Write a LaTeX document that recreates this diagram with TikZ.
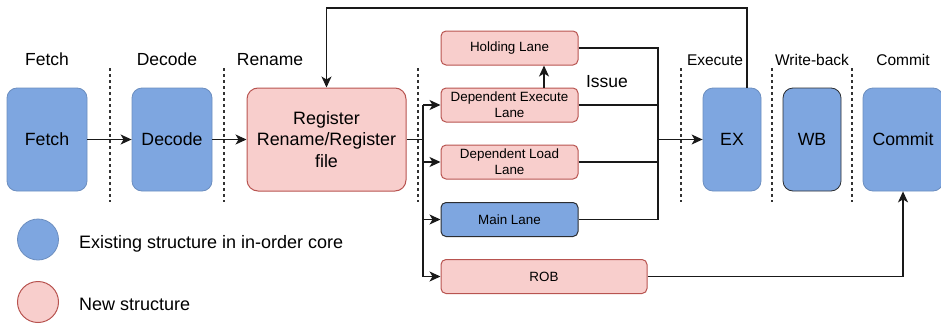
\documentclass[tikz,border=0pt]{standalone}
\usepackage{fontspec}
\setmainfont{Liberation Sans}
\usetikzlibrary{arrows.meta}
\definecolor{exfill}{HTML}{7EA6E0}
\definecolor{exline}{HTML}{6C8EBF}
\definecolor{nwfill}{HTML}{F8CECC}
\definecolor{nwline}{HTML}{B85450}
\definecolor{darkline}{HTML}{2B2D31}
\tikzset{
  oldbox/.style={draw=exline, fill=exfill, rounded corners=10pt, line width=0.8pt,
    inner sep=0pt, minimum width=80pt, minimum height=103pt,
    font=\fontsize{17.7}{21}\selectfont},
  newbig/.style={draw=nwline, fill=nwfill, rounded corners=11pt, line width=1pt,
    inner sep=0pt, minimum width=159pt, minimum height=103pt, align=center,
    font=\fontsize{17.9}{21.7}\selectfont},
  lanebox/.style={draw=nwline, fill=nwfill, rounded corners=5pt, line width=1pt,
    inner sep=0pt, minimum width=137pt, minimum height=34pt, align=center,
    font=\fontsize{13.4}{15.7}\selectfont},
  oldlane/.style={lanebox, draw=darkline, fill=exfill},
  stagelbl/.style={anchor=base, font=\fontsize{17.5}{21}\selectfont},
  smalllbl/.style={anchor=base, font=\fontsize{15.5}{18}\selectfont},
  stagesep/.style={draw=black!80, line width=1.1pt, dash pattern=on 3pt off 3pt},
  wire/.style={draw=black!90, line width=1.3pt},
  arrow/.style={wire, -{Stealth[length=11pt,width=10pt,inset=3pt]}},
  legendtxt/.style={anchor=base west, font=\fontsize{18}{21}\selectfont},
}
\begin{document}
\begin{tikzpicture}[x=1pt,y=-1pt]
\useasboundingbox (0,0) rectangle (941,324);

% pipeline stage separators
\foreach \xs in {110,224,418,681,772,852}
  \draw[stagesep] (\xs,68) -- (\xs,202);

% stage titles
\node[stagelbl] (tfetch)  at (47,65)  {Fetch};
\node[stagelbl] (tdecode) at (167,65) {Decode};
\node[stagelbl] (trename) at (270,65) {Rename};
\node[smalllbl] (texec)   at (715,65) {Execute};
\node[smalllbl] (twb)     at (812,65) {Write-back};
\node[smalllbl] (tcommit) at (903,65) {Commit};
\node[stagelbl] (tissue)  at (607,87) {Issue};

% in-order core stages
\node[oldbox] (fetch)  at (47,139.5)  {Fetch};
\node[oldbox] (decode) at (172,139.5) {Decode};
\node[newbig] (rename) at (326.5,139.5) {Register\\Rename/Register\\file};
\node[oldbox, minimum width=58pt] (ex) at (732,139.5) {EX};
\node[oldbox, minimum width=58pt, draw=darkline] (wb) at (812,139.5) {WB};
\node[oldbox] (commit) at (903,139.5) {Commit};

% issue lanes
\node[lanebox] (hold)  at (509.5,48)    {Holding Lane};
\node[lanebox] (dexe)  at (509.5,105)   {Dependent Execute\\Lane};
\node[lanebox] (dload) at (509.5,162)   {Dependent Load\\Lane};
\node[oldlane] (mainl) at (509.5,219.5) {Main Lane};
\node[lanebox, minimum width=206pt] (rob) at (544,276.5) {ROB};

% front-end flow
\draw[arrow] (fetch) -- (decode);
\draw[arrow] (decode) -- (rename);

% dispatch bus from rename to the lanes
\coordinate (bus) at (423,139.5);
\draw[wire] (rename.east) -- (bus);
\draw[wire] (dexe.west -| bus) -- (rob.west -| bus);
\draw[arrow] (dexe.west -| bus) -- (dexe.west);
\draw[arrow] (dload.west -| bus) -- (dload.west);
\draw[arrow] (mainl.west -| bus) -- (mainl.west);
\draw[arrow] (rob.west -| bus) -- (rob.west);
\draw[arrow] ([xshift=34.5pt]dexe.north) -- ([xshift=34.5pt]hold.south);

% lanes merge into execute
\coordinate (mrg) at (658,139.5);
\draw[wire] (hold.east) -- (hold.east -| mrg) -- (mainl.east -| mrg) -- (mainl.east);
\draw[wire] (dexe.east) -- (dexe.east -| mrg);
\draw[wire] (dload.east) -- (dload.east -| mrg);
\draw[arrow] (mrg) -- (ex.west);

% feedback from execute to rename
\coordinate (fbtop) at (747,8);
\draw[arrow] ([xshift=15pt]ex.north) -- ([xshift=15pt]ex.north |- fbtop) -| (rename.north);

% ROB to commit
\draw[arrow] (rob.east) -| (commit.south);

% legend
\node[circle, draw=exline, fill=exfill, line width=0.8pt, minimum size=41pt, inner sep=0pt] (legold) at (38,239.5) {};
\node[circle, draw=nwline, fill=nwfill, line width=1pt, minimum size=41pt, inner sep=0pt] (legnew) at (38,302) {};
\node[legendtxt] (legoldtxt) at (75.5,248) {Existing structure in in-order core};
\node[legendtxt] (legnewtxt) at (75.5,310) {New structure};
\end{tikzpicture}
\end{document}
